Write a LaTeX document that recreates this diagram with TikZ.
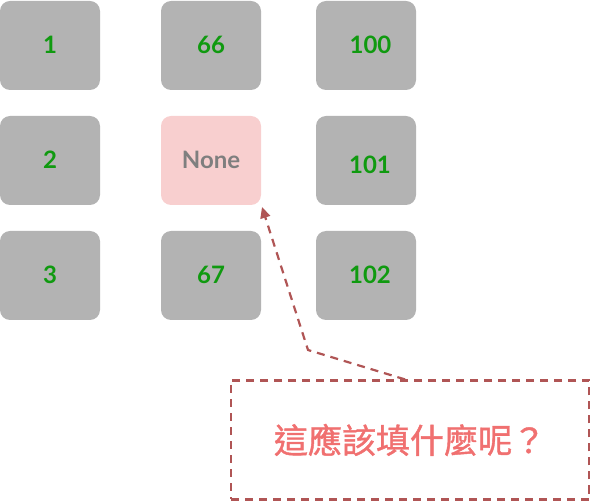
\documentclass[tikz,border=0pt]{standalone}
\usepackage{fontspec}
\setmainfont{Lato}
\newfontfamily\cjk[FakeBold=1.2]{Noto Sans CJK TC}
\usetikzlibrary{arrows.meta}
\definecolor{cellgray}{HTML}{B3B3B3}
\definecolor{numgreen}{HTML}{109A10}
\definecolor{nonefill}{HTML}{F8CFCF}
\definecolor{nonetext}{HTML}{7F7F7F}
\definecolor{notered}{HTML}{B05555}
\definecolor{qtext}{HTML}{F07070}
\tikzset{
  cell/.style={fill=cellgray, rounded corners=10pt, minimum width=100pt, minimum height=89pt, inner sep=0pt,
    text height=17pt, text depth=0pt,
    text=numgreen, font=\fontsize{24}{28}\selectfont\bfseries},
  emptycell/.style={cell, fill=nonefill, text=nonetext},
  note/.style={draw=notered, line width=2.2pt, dash pattern=on 8pt off 6pt},
}
\begin{document}
\begin{tikzpicture}[x=1pt,y=-1pt]
\useasboundingbox (0,0) rectangle (592,502);
\node[cell] (c1) at (50,45.5) {1};
\node[cell] (c2) at (50,160.5) {2};
\node[cell] (c3) at (50,275.5) {3};
\node[cell] (c66) at (211,45.5) {66};
\node[emptycell] (none) at (211,160.5) {None};
\node[cell] (c67) at (211,275.5) {67};
\node[cell] (c100) at (366,45.5) {\hspace*{9pt}100};
\node[cell] (c101) at (366,160.5) {\hspace*{8pt}\raisebox{-5pt}{101}};
\node[cell] (c102) at (366,275.5) {\hspace*{8pt}102};
\node[note, minimum width=358pt, minimum height=119pt, inner sep=0pt] (q) at (410,440)
  {\cjk\fontsize{34}{38}\selectfont\color{qtext}這應該填什麼呢？};
\coordinate (bend) at (308,350);
\draw[note, -{Triangle[length=11pt,width=10pt]}] (q.north) ++(-5,0) -- (bend) -- (262,207);
\end{tikzpicture}
\end{document}
